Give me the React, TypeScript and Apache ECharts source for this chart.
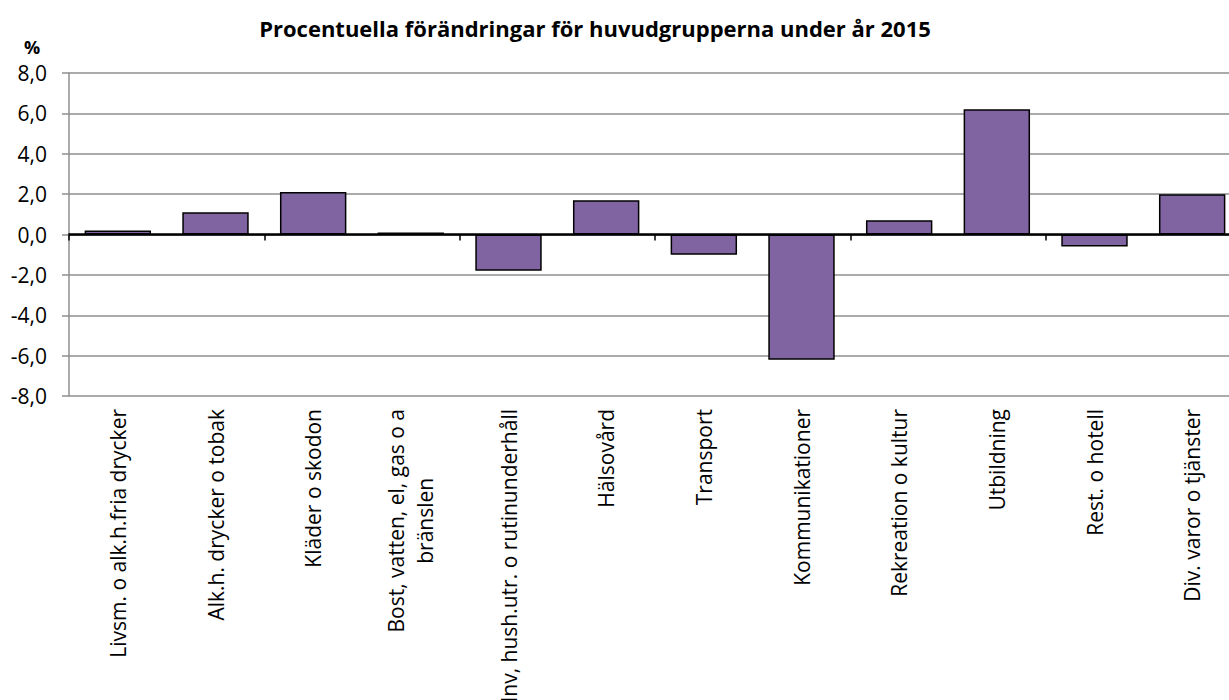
import React, { useEffect, useRef } from 'react';
import * as echarts from 'echarts';

const categories: string[] = [
  'Livsm. o alk.h.fria drycker',
  'Alk.h. drycker o tobak',
  'Kläder o skodon',
  'Bost, vatten, el, gas o a\nbränslen',
  'Inv, hush.utr. o rutinunderhåll',
  'Hälsovård',
  'Transport',
  'Kommunikationer',
  'Rekreation o kultur',
  'Utbildning',
  'Rest. o hotell',
  'Div. varor o tjänster',
];

const values: number[] = [0.2, 1.1, 2.1, 0.1, -1.8, 1.7, -1.0, -6.2, 0.7, 6.2, -0.6, 2.0];

const yMin = -8;
const yMax = 8;
const yInterval = 2;

const titleText = 'Procentuella förändringar för huvudgrupperna under år 2015';
const unitText = '%';

const FONT = '"Open Sans", "Noto Sans", sans-serif';
const GRID_GRAY = '#8f8f8f';

export default function App() {
  const ref = useRef<HTMLDivElement>(null);

  useEffect(() => {
    if (!ref.current) return;
    const chart = echarts.init(ref.current, undefined, { renderer: 'svg' });
    chart.setOption({
      animation: false,
      backgroundColor: '#ffffff',
      grid: {
        left: 69,
        top: 73,
        right: -12,
        bottom: 304,
        containLabel: false,
        outerBoundsMode: 'none',
      },
      graphic: [
        {
          type: 'text',
          x: 595,
          y: 28,
          style: {
            text: titleText,
            align: 'center',
            verticalAlign: 'middle',
            fontFamily: FONT,
            fontWeight: 'bold',
            fontSize: 22,
            fill: '#000',
          },
        },
        {
          type: 'text',
          x: 32,
          y: 47,
          style: {
            text: unitText,
            align: 'center',
            verticalAlign: 'middle',
            fontFamily: FONT,
            fontWeight: 'bold',
            fontSize: 18,
            fill: '#000',
          },
        },
      ],
      xAxis: [
        {
          type: 'category',
          data: categories,
          position: 'bottom',
          boundaryGap: true,
          axisLine: { show: false, onZero: false },
          axisTick: { show: false },
          splitLine: { show: false },
          axisLabel: {
            interval: 0,
            rotate: 90,
            margin: 13,
            fontFamily: FONT,
            fontSize: 21,
            color: '#000',
            formatter: (v: string) =>
              v
                .split('\n')
                .map((l) => `{c|${l}}`)
                .join('\n'),
            rich: {
              c: {
                align: 'center',
                fontFamily: FONT,
                fontSize: 21,
                lineHeight: 29,
                color: '#000',
              },
            },
          },
        },
        {
          type: 'category',
          data: categories,
          position: 'bottom',
          boundaryGap: true,
          axisLine: { show: true, onZero: true, lineStyle: { color: '#000', width: 2.5 } },
          axisTick: {
            show: true,
            interval: 1,
            length: 6,
            inside: false,
            lineStyle: { color: '#000', width: 1.5 },
          },
          axisLabel: { show: false },
          splitLine: { show: false },
        },
      ],
      yAxis: {
        type: 'value',
        min: yMin,
        max: yMax,
        interval: yInterval,
        axisLine: { show: true, lineStyle: { color: GRID_GRAY, width: 1.5 } },
        axisTick: { show: true, length: 7, inside: false, lineStyle: { color: GRID_GRAY, width: 1.5 } },
        splitLine: { show: true, lineStyle: { color: GRID_GRAY, width: 1.5 } },
        axisLabel: {
          margin: 22,
          fontFamily: FONT,
          fontSize: 21,
          color: '#000',
          formatter: (v: number) => v.toFixed(1).replace('.', ','),
        },
      },
      series: [
        {
          type: 'bar',
          xAxisIndex: 0,
          data: values,
          barCategoryGap: '32%',
          itemStyle: { color: '#8064A2', borderColor: '#000', borderWidth: 1.5 },
        },
      ],
    });
    return () => chart.dispose();
  }, []);

  return (
    <div
      ref={ref}
      style={{ position: 'absolute', left: 0, top: 0, width: 1229, height: 700 }}
    />
  );
}
